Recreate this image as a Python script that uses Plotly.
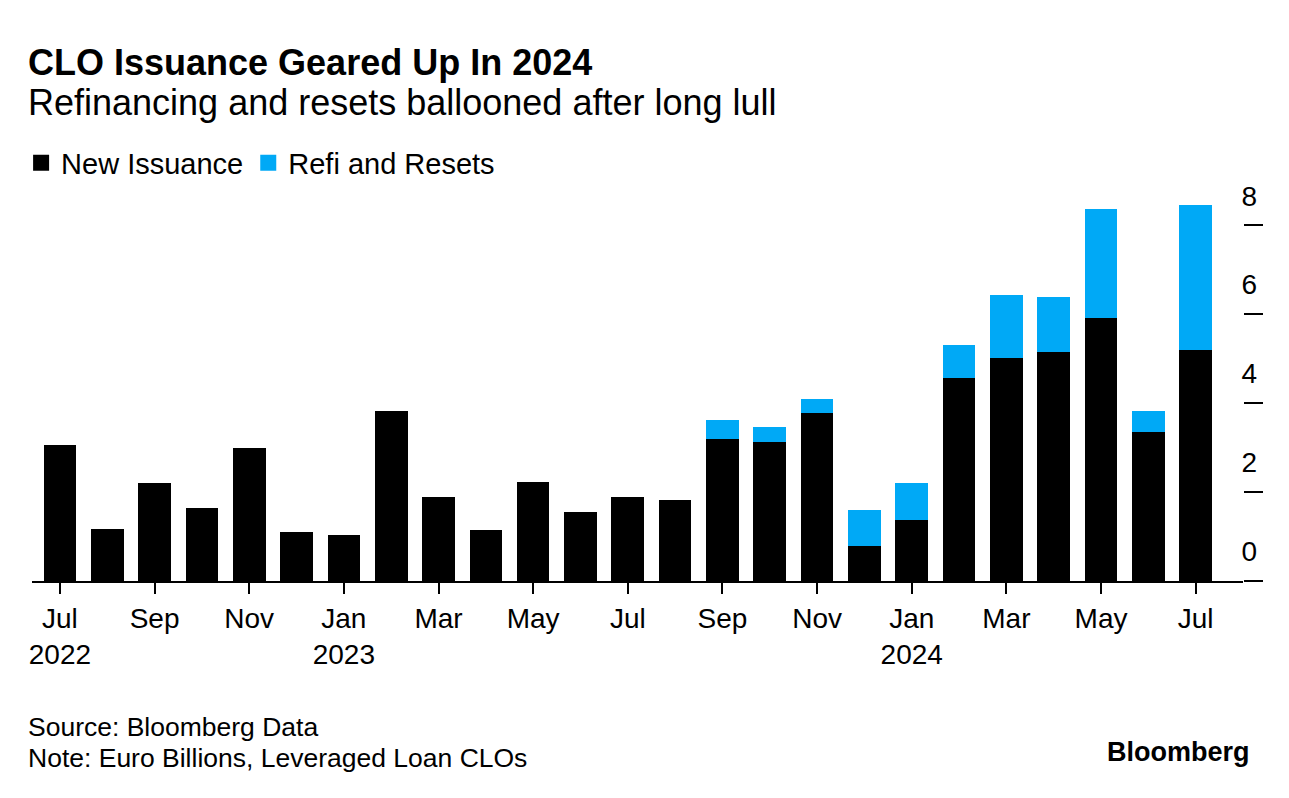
import plotly.graph_objects as go

months = ["Jul 2022", "Aug 2022", "Sep 2022", "Oct 2022", "Nov 2022", "Dec 2022",
          "Jan 2023", "Feb 2023", "Mar 2023", "Apr 2023", "May 2023", "Jun 2023",
          "Jul 2023", "Aug 2023", "Sep 2023", "Oct 2023", "Nov 2023", "Dec 2023",
          "Jan 2024", "Feb 2024", "Mar 2024", "Apr 2024", "May 2024", "Jun 2024",
          "Jul 2024"]
new_issuance = [3.05, 1.16, 2.20, 1.65, 2.98, 1.10, 1.03, 3.83, 1.89, 1.15, 2.22, 1.56,
                1.89, 1.81, 3.19, 3.12, 3.77, 0.79, 1.37, 4.56, 5.02, 5.15, 5.92, 3.34,
                5.19]
refi_resets = [0, 0, 0, 0, 0, 0, 0, 0, 0, 0, 0, 0,
               0, 0, 0.42, 0.34, 0.31, 0.80, 0.83, 0.74, 1.40, 1.23, 2.45, 0.49,
               3.26]
tick_months = ["Jul 2022", "Sep 2022", "Nov 2022", "Jan 2023", "Mar 2023", "May 2023",
               "Jul 2023", "Sep 2023", "Nov 2023", "Jan 2024", "Mar 2024", "May 2024",
               "Jul 2024"]
tick_labels = ["Jul<br>2022", "Sep", "Nov", "Jan<br>2023", "Mar", "May", "Jul", "Sep",
               "Nov", "Jan<br>2024", "Mar", "May", "Jul"]
y_ticks = [0, 2, 4, 6, 8]

FONT = "Liberation Sans"
BLACK = "#000000"
BLUE = "#00A9F6"

fig = go.Figure()
fig.add_trace(go.Bar(x=months, y=new_issuance, name="New Issuance", showlegend=False,
                     marker=dict(color=BLACK, line=dict(width=0))))
fig.add_trace(go.Bar(x=months, y=refi_resets, name="Refi and Resets", showlegend=False,
                     marker=dict(color=BLUE, line=dict(width=0))))
# legend entries (square swatches)
for name, col in [("New Issuance", BLACK), ("Refi and Resets", BLUE)]:
    fig.add_trace(go.Scatter(x=[None], y=[None], mode="markers", name=name,
                             marker=dict(symbol="square", size=18, color=col)))

# page body has an 8px margin -> figure coords = screen coords - 8
OFF = 8
W, H = 1289 - OFF, 798 - OFF
L, R, T, B = 32 - OFF, 1243 - OFF, 185 - OFF, 581 - OFF
PH = B - T
PW = R - L


def py(screen_y):
    return (B + OFF - screen_y) / PH


fig.update_layout(
    width=W, height=H,
    barmode="stack", bargap=0.31,
    plot_bgcolor="white", paper_bgcolor="white",
    margin=dict(l=L, r=W - R, t=T, b=H - B, pad=0),
    font=dict(family=FONT, color=BLACK, size=28),
    showlegend=True,
    legend=dict(orientation="h", x=-0.009, xanchor="left", y=py(163), yanchor="middle",
                font=dict(size=29, family=FONT), itemsizing="trace",
                traceorder="normal", bgcolor="rgba(0,0,0,0)"),
    xaxis=dict(type="category", range=[-0.59, 25.0], showline=True, linecolor=BLACK,
               linewidth=2, ticks="outside", ticklen=11, tickwidth=1.5, tickcolor=BLACK,
               tickvals=tick_months, ticktext=tick_labels, showgrid=False, zeroline=False,
               tickfont=dict(size=28, family=FONT)),
    yaxis=dict(side="right", range=[0, 8.9], tickvals=y_ticks, ticks="outside", ticklen=19,
               tickwidth=1.5, tickcolor=BLACK, showgrid=False, zeroline=False,
               showline=False, ticklabelposition="outside top", ticklabelstandoff=-8,
               ticklabelshift=-9, tickfont=dict(size=28, family=FONT)),
)

annots = [
    dict(text="<b>CLO Issuance Geared Up In 2024</b>", y=62, size=36),
    dict(text="Refinancing and resets ballooned after long lull", y=102, size=36),
    dict(text="Source: Bloomberg Data", y=727, size=26.5),
    dict(text="Note: Euro Billions, Leveraged Loan CLOs", y=758, size=26.5),
]
for a in annots:
    fig.add_annotation(text=a["text"], xref="paper", yref="paper", x=0, xshift=-6,
                       y=py(a["y"]), xanchor="left", yanchor="middle", showarrow=False,
                       font=dict(size=a["size"], family=FONT, color=BLACK))
fig.add_annotation(text="<b>Bloomberg</b>", xref="paper", yref="paper",
                   x=(1252 - OFF - L) / PW, y=py(752), xanchor="right", yanchor="middle",
                   showarrow=False, font=dict(size=27, family=FONT, color=BLACK))

fig.write_html("out.html")
